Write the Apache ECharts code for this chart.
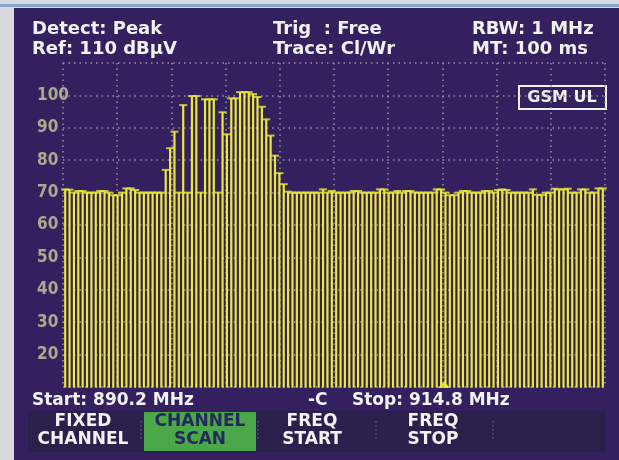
<!DOCTYPE html>
<html>
<head>
<meta charset="utf-8">
<script src="https://cdn.jsdelivr.net/npm/echarts@6/dist/echarts.min.js"></script>
<style>
  body { margin: 0; background: #d8d9de; width: 619px; height: 460px; overflow: hidden; position: relative; }
  #topline { position: absolute; left: 0; top: 4px; width: 619px; height: 3px; background: #86a6cc; }
  #main { position: absolute; left: 14px; top: 8px; width: 605px; height: 452px; }
</style>
</head>
<body>
<div id="topline"></div>
<div id="main"></div>
<script>
// GSM uplink channel scan, 124 channels
let startFreq = 890.2;
let stepFreq = 0.2;
let levels = [
  71.0, 70.9, 70.0, 70.5, 70.5, 70.0, 70.0, 70.0, 70.5, 70.5,
  70.0, 69.2, 69.2, 70.0, 71.3, 71.3, 70.8, 70.0, 70.0, 70.0,
  70.0, 70.0, 70.0, 77.0, 83.7, 88.8, 70.0, 97.0, 70.0, 99.8,
  99.8, 70.0, 98.8, 98.8, 98.8, 70.0, 94.8, 88.0, 99.1, 99.1,
  101.0, 101.0, 101.0, 100.4, 99.5, 96.5, 92.6, 87.6, 81.4, 76.0,
  72.6, 70.3, 70.0, 70.0, 70.0, 70.0, 70.0, 70.0, 70.0, 71.0,
  70.0, 70.5, 70.0, 70.0, 70.0, 70.0, 70.5, 70.5, 70.0, 70.0,
  70.0, 70.0, 71.0, 71.0, 70.0, 70.0, 70.5, 70.0, 70.5, 70.5,
  70.0, 70.0, 70.0, 70.0, 70.0, 71.0, 71.0, 70.0, 69.2, 69.2,
  70.0, 70.5, 70.5, 70.0, 70.0, 70.0, 70.5, 70.5, 70.0, 70.8,
  71.0, 70.8, 70.0, 70.0, 70.0, 70.0, 70.0, 71.0, 69.3, 69.3,
  70.0, 70.0, 71.2, 71.0, 71.0, 71.2, 70.0, 70.0, 71.0, 71.0,
  70.0, 70.0, 71.3, 71.3
];
let yTicks = [20, 30, 40, 50, 60, 70, 80, 90, 100];
let headerLeft = ["Detect: Peak", "Ref: 110 dB\u00b5V"];
let headerMid = ["Trig  : Free", "Trace: Cl/Wr"];
let headerRight = ["RBW: 1 MHz", "MT: 100 ms"];
let softkeys = [["FIXED", "CHANNEL"], ["CHANNEL", "SCAN"], ["FREQ", "START"], ["FREQ", "STOP"], ["", ""]];

let channels = [];
for (let i = 0; i < levels.length; i++) {
  channels.push((startFreq + i * stepFreq).toFixed(1));
}

const YELLOW = "#eaea34";
const FONT = "DejaVu Sans";
const GRIDLINE = { color: "#9493a6", width: 1.5, type: [1.5, 4] };

let myChart = echarts.init(document.getElementById("main"));

function txt(x, y, text, opts) {
  return {
    type: "text", x: x, y: y, silent: true,
    style: Object.assign({
      text: text, fill: "#f2f2f2", font: "bold 18px " + FONT,
      textVerticalAlign: "middle"
    }, opts || {})
  };
}

let graphics = [
  txt(18, 21, headerLeft[0]), txt(18, 41, headerLeft[1]),
  txt(259, 21, headerMid[0]), txt(259, 41, headerMid[1]),
  txt(458, 21, headerRight[0]), txt(458, 41, headerRight[1]),
  {
    type: "rect", shape: { x: 505, y: 78, width: 87, height: 23 },
    style: { fill: "none", stroke: "#f2f2f2", lineWidth: 2 }
  },
  txt(548, 90, "GSM UL", { font: "bold 16px " + FONT, textAlign: "center" }),
  txt(18, 393, "Start: 890.2 MHz", { font: "bold 17px " + FONT }),
  txt(294, 393, "-C", { font: "bold 17px " + FONT }),
  txt(338, 393, "Stop: 914.8 MHz", { font: "bold 17px " + FONT }),
  {
    type: "polygon", shape: { points: [[424, 380], [430, 373], [436, 380]] },
    style: { fill: YELLOW }
  },
  {
    type: "rect", shape: { x: 14, y: 403, width: 578, height: 41 },
    style: { fill: "#2b1f4c" }
  },
  {
    type: "rect", shape: { x: 130, y: 404, width: 112, height: 39 },
    style: { fill: "#4aa74a" }
  }
];

let keyCenters = [69, 186, 298, 419, 535];
softkeys.forEach(function (k, i) {
  let col = i === 1 ? "#26285c" : "#f2f2f2";
  graphics.push(txt(keyCenters[i], 414, k[0], { font: "bold 17px " + FONT, textAlign: "center", fill: col }));
  graphics.push(txt(keyCenters[i], 432, k[1], { font: "bold 17px " + FONT, textAlign: "center", fill: col }));
});
[127, 244, 362, 479].forEach(function (x) {
  graphics.push({
    type: "line", shape: { x1: x, y1: 413, x2: x, y2: 433 },
    style: { stroke: "#5a5a70", lineWidth: 1.5, lineDash: [1.5, 2.5] }
  });
});

let option = {
  backgroundColor: "#35205f",
  animation: false,
  grid: { left: 49, top: 55, width: 542, height: 324 },
  xAxis: [
    {
      type: "category",
      data: channels,
      axisLine: { show: false },
      axisTick: { show: false },
      axisLabel: { show: false }
    },
    {
      type: "value",
      min: 0,
      max: 10,
      interval: 1,
      axisLine: { show: false },
      axisTick: { show: false },
      axisLabel: { show: false },
      splitLine: { show: true, lineStyle: GRIDLINE }
    }
  ],
  yAxis: {
    type: "value",
    min: 10,
    max: 110,
    interval: 10,
    axisLine: { show: false },
    axisTick: { show: false },
    axisLabel: {
      margin: 26,
      align: "left",
      color: "#a8ac8c",
      fontFamily: "DejaVu Sans Condensed",
      fontWeight: "bold",
      fontSize: 17,
      formatter: function (v) {
        return yTicks.indexOf(v) >= 0 ? String(v) : "";
      }
    },
    splitLine: { show: true, lineStyle: GRIDLINE }
  },
  series: [
    {
      type: "bar",
      xAxisIndex: 0,
      data: levels,
      barWidth: "50%",
      itemStyle: { color: "rgba(0,0,0,0)", borderColor: YELLOW, borderWidth: 1.2 },
      silent: true
    },
    {
      type: "scatter",
      xAxisIndex: 0,
      data: levels,
      symbol: "rect",
      symbolSize: [8, 2],
      itemStyle: { color: YELLOW },
      silent: true
    }
  ],
  graphic: graphics
};
myChart.setOption(option);
</script>
</body>
</html>
